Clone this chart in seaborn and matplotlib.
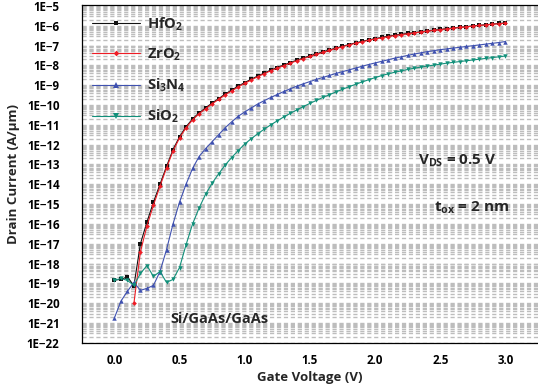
import numpy as np
import pandas as pd
import matplotlib
matplotlib.use("Agg")
import matplotlib.pyplot as plt
from matplotlib.ticker import LogLocator, FuncFormatter, MultipleLocator, NullFormatter
import seaborn as sns

# gate voltage (V), step 0.05
gate_v = [round(0.05 * i, 2) for i in range(61)]

# log10 of drain current (A/um)
hfo2 = [-18.83, -18.8, -18.67, -19.12, -17.0, -15.9, -14.9, -14.0, -13.1, -12.25,
        -11.6, -11.1, -10.7, -10.4, -10.15, -9.9, -9.68, -9.45, -9.25, -9.05,
        -8.87, -8.7, -8.54, -8.39, -8.24, -8.11, -7.98, -7.86, -7.74, -7.63,
        -7.52, -7.42, -7.32, -7.22, -7.13, -7.04, -6.95, -6.87, -6.79, -6.72,
        -6.65, -6.59, -6.53, -6.48, -6.43, -6.39, -6.35, -6.31, -6.27, -6.23,
        -6.19, -6.15, -6.12, -6.08, -6.05, -6.01, -5.98, -5.95, -5.92, -5.89, -5.86]
zro2 = [np.nan, np.nan, np.nan, -20.0, -17.4, -16.1, -15.05, -14.1, -13.18, -12.32,
        -11.66, -11.15, -10.75, -10.44, -10.19, -9.94, -9.72, -9.49, -9.29, -9.09,
        -8.91, -8.74, -8.57, -8.42, -8.27, -8.14, -8.01, -7.89, -7.77, -7.66,
        -7.55, -7.45, -7.35, -7.25, -7.15, -7.06, -6.97, -6.89, -6.81, -6.74,
        -6.67, -6.61, -6.55, -6.5, -6.45, -6.41, -6.36, -6.32, -6.28, -6.24,
        -6.2, -6.16, -6.13, -6.09, -6.06, -6.02, -5.99, -5.96, -5.93, -5.9, -5.87]
si3n4 = [-20.75, -19.9, -19.4, -18.95, -19.35, -19.25, -19.1, -18.4, -17.3, -16.0,
         -14.9, -14.0, -13.2, -12.6, -12.2, -11.85, -11.5, -11.15, -10.85, -10.57,
         -10.35, -10.15, -9.95, -9.78, -9.62, -9.47, -9.32, -9.18, -9.05, -8.93,
         -8.82, -8.71, -8.61, -8.51, -8.41, -8.32, -8.23, -8.14, -8.05, -7.96,
         -7.88, -7.8, -7.72, -7.64, -7.57, -7.5, -7.43, -7.37, -7.31, -7.26,
         -7.21, -7.17, -7.13, -7.09, -7.05, -7.01, -6.97, -6.93, -6.89, -6.85, -6.8]
sio2 = [-18.85, -18.75, -18.85, -19.1, -18.5, -18.1, -18.65, -18.4, -18.95, -18.8,
        -18.2, -17.05, -16.0, -15.2, -14.5, -13.95, -13.47, -13.03, -12.65, -12.3,
        -11.97, -11.7, -11.45, -11.22, -11.0, -10.8, -10.6, -10.42, -10.25, -10.08,
        -9.92, -9.77, -9.62, -9.48, -9.34, -9.21, -9.08, -8.96, -8.84, -8.73,
        -8.62, -8.52, -8.43, -8.35, -8.28, -8.21, -8.15, -8.09, -8.04, -7.99,
        -7.94, -7.89, -7.85, -7.81, -7.77, -7.73, -7.69, -7.65, -7.61, -7.57, -7.53]

series = [
    ("HfO$_2$", hfo2, "#111111", "s", 2.4),
    ("ZrO$_2$", zro2, "#ee1c25", "D", 2.4),
    ("Si$_3$N$_4$", si3n4, "#3f51b0", "^", 3.2),
    ("SiO$_2$", sio2, "#12907a", "v", 3.2),
]

FONT = "Open Sans"

sns.set_style("white")
plt.rcParams["font.family"] = [FONT, "DejaVu Sans"]
plt.rcParams["font.weight"] = "bold"
plt.rcParams["mathtext.fontset"] = "custom"
plt.rcParams["mathtext.rm"] = FONT + ":bold"
plt.rcParams["mathtext.it"] = FONT + ":bold"
plt.rcParams["mathtext.bf"] = FONT + ":bold"
plt.rcParams["mathtext.default"] = "regular"

fig = plt.figure(figsize=(5.38, 3.87), dpi=100)
ax = fig.add_axes([0.152, 0.114, 0.848, 0.873])

for label, vals, color, marker, ms in series:
    df = pd.DataFrame({"v": gate_v, "i": 10.0 ** np.array(vals)}).dropna()
    sns.lineplot(data=df, x="v", y="i", ax=ax, color=color, marker=marker,
                 markersize=ms, markeredgewidth=0, linewidth=0.8,
                 estimator=None, sort=False, label=label)

ax.set_yscale("log")
ax.set_ylim(1e-22, 1.1e-5)
ax.set_xlim(-0.25, 3.25)
ax.xaxis.set_major_locator(MultipleLocator(0.5))
ax.xaxis.set_minor_locator(MultipleLocator(0.25))
ax.yaxis.set_major_locator(LogLocator(base=10, numticks=30))
ax.yaxis.set_minor_locator(LogLocator(base=10, subs=np.arange(2, 10), numticks=30))
ax.yaxis.set_major_formatter(FuncFormatter(lambda y, p: "1E\u2212%d" % round(-np.log10(y))))
ax.yaxis.set_minor_formatter(NullFormatter())
ax.xaxis.set_major_formatter(FuncFormatter(lambda x, p: "%.1f" % x))

ax.grid(True, which="both", axis="y", color="#bdbdbd", linestyle=(0, (3, 2)), linewidth=1.0)
ax.set_axisbelow(True)
ax.tick_params(axis="both", which="major", direction="in", length=4, width=0.8,
               labelsize=8.3, colors="black")
ax.tick_params(axis="y", which="major", pad=16)
ax.tick_params(axis="x", which="major", pad=8)
ax.tick_params(axis="both", which="minor", direction="in", length=2.5, width=0.6)
ax.tick_params(axis="x", which="minor", length=4)
for s in ["left", "bottom", "top"]:
    ax.spines[s].set_color("black")
    ax.spines[s].set_linewidth(0.9)
ax.spines["right"].set_visible(False)

ax.set_xlabel("Gate Voltage (V)", fontsize=9.5, fontweight="bold", labelpad=3)
ax.set_ylabel("Drain Current (A/\u03bcm)", fontsize=9.5, fontweight="bold")
ax.yaxis.set_label_coords(-0.135, 0.5)

leg = ax.legend(loc="upper left", frameon=False, fontsize=10.5, handlelength=3.3,
                handletextpad=0.5, labelspacing=0.95, borderaxespad=0.3,
                numpoints=1, markerscale=1.2)

ax.text(2.33, 1e-13, "V$_{DS}$ = 0.5 V", fontsize=11, fontweight="bold")
ax.text(2.45, 4e-16, "t$_{ox}$ = 2 nm", fontsize=11, fontweight="bold")
ax.text(0.43, 1e-21, "Si/GaAs/GaAs", fontsize=10.5, fontweight="bold")

fig.savefig("out.png", dpi=100)
